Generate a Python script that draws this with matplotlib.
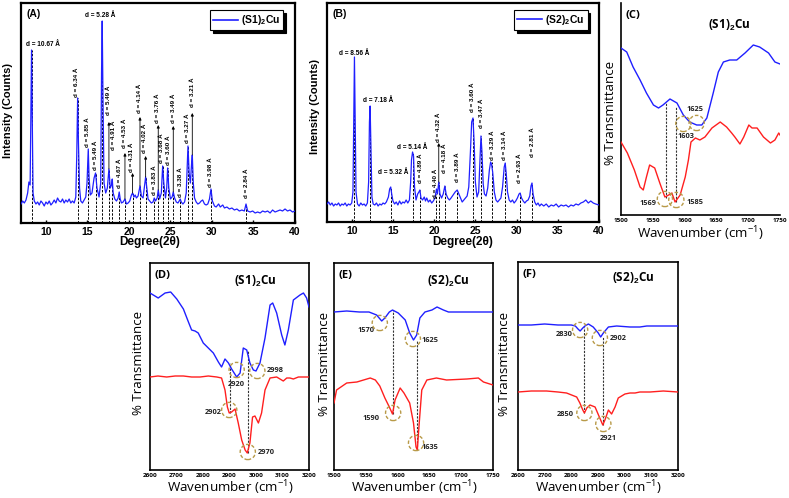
import matplotlib.pyplot as plt
from matplotlib.lines import Line2D

plt.rcParams['font.family'] = ['Liberation Sans', 'DejaVu Sans']
plt.rcParams['mathtext.fontset'] = 'custom'
plt.rcParams['mathtext.rm'] = 'Open Sans'
plt.rcParams['mathtext.bf'] = 'Liberation Sans:bold'

W, H = 789, 498
BLUE = '#1f1fff'
RED = '#ff1f1f'
GOLD = '#b89a48'
IRFONT = ['Open Sans', 'DejaVu Sans']

# ---------------- XRD (A) (S1)2Cu ----------------
a_2theta = [7.0, 7.2, 7.4, 7.6, 7.8, 7.95, 8.1, 8.2, 8.27, 8.35, 8.45, 8.6, 8.8, 9.0, 9.2, 9.4, 9.6, 9.8,
            10.0, 10.2, 10.4, 10.6, 10.8, 11.0, 11.2, 11.4, 11.6, 11.8, 12.0, 12.2, 12.4, 12.6, 12.8, 13.0,
            13.2, 13.4, 13.6, 13.72, 13.82, 13.92, 14.05, 14.2, 14.4, 14.6, 14.8, 14.95, 15.1, 15.2, 15.35,
            15.55, 15.8, 15.98, 16.15, 16.4, 16.6, 16.7, 16.78, 16.88, 17.0, 17.2, 17.4, 17.59, 17.75, 17.9,
            17.99, 18.1, 18.3, 18.5, 18.7, 18.83, 18.95, 19.1, 19.3, 19.52, 19.7, 19.9, 20.1, 20.3, 20.44,
            20.6, 20.75, 20.9, 21.1, 21.33, 21.5, 21.7, 21.85, 22.01, 22.15, 22.3, 22.5, 22.7, 22.9, 23.05,
            23.2, 23.4, 23.53, 23.7, 23.9, 24.06, 24.2, 24.4, 24.55, 24.66, 24.8, 25.0, 25.2, 25.34, 25.5,
            25.7, 25.9, 26.05, 26.18, 26.3, 26.5, 26.7, 26.9, 27.11, 27.25, 27.4, 27.55, 27.63, 27.75, 27.9,
            28.1, 28.3, 28.5, 28.7, 28.88, 29.1, 29.3, 29.5, 29.7, 29.88, 30.05, 30.3, 30.5, 30.8, 31.0,
            31.3, 31.5, 31.8, 32.1, 32.4, 32.7, 33.0, 33.3, 33.6, 33.9, 34.1, 34.3, 34.6, 34.9, 35.2, 35.5,
            35.8, 36.1, 36.4, 36.7, 37.0, 37.3, 37.6, 37.9, 38.2, 38.5, 38.8, 39.1, 39.4, 39.7, 40.0]
a_counts = [19, 22, 20, 23, 30, 41, 38, 120, 173, 110, 30, 22, 19, 21, 18, 22, 20, 17,
            21, 19, 22, 18, 20, 23, 20, 25, 22, 21, 24, 20, 23, 21, 24, 20,
            22, 20, 26, 70, 125, 80, 35, 22, 20, 23, 26, 40, 74, 45, 28,
            30, 45, 50, 35, 26, 40, 150, 202, 120, 40, 30, 35, 54, 35, 38,
            44, 30, 24, 22, 25, 31, 24, 20, 21, 24, 19, 20, 22, 28, 30,
            26, 28, 25, 27, 37, 27, 25, 35, 46, 35, 24, 22, 20, 21, 25,
            22, 25, 33, 24, 30, 57, 40, 25, 35, 55, 35, 24, 26, 31, 25,
            21, 20, 22, 24, 21, 19, 21, 30, 77, 50, 40, 60, 68, 40, 25,
            21, 19, 20, 22, 23, 19, 18, 19, 24, 34, 22, 17, 16, 19, 16,
            18, 15, 16, 14, 15, 13, 14, 12, 13, 12, 19, 12, 11, 12, 10, 11,
            10, 12, 11, 12, 10, 13, 11, 12, 13, 12, 14, 12, 13, 11, 12]
a_peaks = [8.27, 13.82, 15.1, 15.98, 16.78, 17.59, 17.99, 18.83, 19.52, 20.44, 21.33, 22.01,
           23.05, 23.53, 24.06, 24.66, 25.34, 26.18, 27.11, 27.63, 29.88, 34.1]
a_peak_h = [173, 125, 74, 50, 202, 54, 44, 31, 24, 30, 37, 46, 25, 33, 57, 55, 31, 24, 77, 68, 34, 19]

# text, 2theta, height, rotation
a_labels = [('d = 10.67 Å', 9.67, 179, 0), ('d = 5.28 Å', 16.5, 208, 0),
            ('d = 6.34 Å', 13.70, 126, 90), ('d = 5.85 Å', 15.02, 76, 90),
            ('d = 5.49 Å', 15.98, 53, 90), ('d = 5.49 Å', 17.59, 108, 90),
            ('d = 4.91 Å', 18.19, 73, 90), ('d = 4.67 Å', 18.83, 35, 90),
            ('d = 4.53 Å', 19.52, 75, 90), ('d = 4.31 Å', 20.32, 51, 90),
            ('d = 4.14 Å', 21.24, 110, 90), ('d = 4.02 Å', 21.93, 70, 90),
            ('d = 3.83 Å', 23.05, 28, 90), ('d = 3.76 Å', 23.46, 100, 90),
            ('d = 3.68 Å', 23.97, 60, 90), ('d = 3.60 Å', 24.72, 58, 90),
            ('d = 3.49 Å', 25.38, 100, 90), ('d = 3.38 Å', 26.18, 26, 90),
            ('d = 3.27 Å', 27.07, 80, 90), ('d = 3.21 Å', 27.67, 116, 90),
            ('d = 3.98 Å', 29.88, 36, 90), ('d = 2.84 Å', 34.1, 25, 90)]
a_arrows = [(17.59, 54, 101), (19.52, 24, 70), (20.44, 30, 50), (21.33, 37, 106),
            (22.01, 46, 67), (23.53, 33, 98), (25.34, 31, 97), (27.63, 68, 110)]

# ---------------- XRD (B) (S2)2Cu ----------------
b_2theta = [7.0, 7.2, 7.4, 7.6, 7.8, 8.0, 8.2, 8.4, 8.6, 8.8, 9.0, 9.2, 9.4, 9.6, 9.8, 10.0, 10.15,
            10.25, 10.33, 10.42, 10.52, 10.7, 10.9, 11.1, 11.3, 11.5, 11.7, 11.9, 12.05, 12.15, 12.23,
            12.32, 12.45, 12.6, 12.8, 13.0, 13.2, 13.4, 13.6, 13.8, 14.0, 14.2, 14.45, 14.6, 14.73, 14.85,
            15.0, 15.2, 15.4, 15.6, 15.8, 16.0, 16.2, 16.4, 16.6, 16.8, 17.0, 17.15, 17.25, 17.38, 17.5,
            17.62, 17.8, 18.0, 18.15, 18.27, 18.4, 18.6, 18.8, 18.95, 19.1, 19.3, 19.5, 19.7, 19.9, 20.1,
            20.28, 20.4, 20.56, 20.7, 20.9, 21.1, 21.3, 21.45, 21.65, 21.85, 22.05, 22.3, 22.55, 22.8,
            23.0, 23.2, 23.4, 23.6, 23.8, 24.0, 24.2, 24.4, 24.55, 24.71, 24.85, 25.0, 25.2, 25.4, 25.55,
            25.68, 25.8, 25.95, 26.1, 26.3, 26.5, 26.7, 26.85, 26.96, 27.1, 27.3, 27.5, 27.7, 27.9, 28.1,
            28.3, 28.5, 28.62, 28.75, 28.9, 29.1, 29.3, 29.5, 29.7, 29.9, 30.1, 30.3, 30.43, 30.6, 30.8,
            31.0, 31.2, 31.4, 31.6, 31.75, 31.87, 32.0, 32.2, 32.4, 32.6, 32.8, 33.0, 33.3, 33.6, 33.9,
            34.2, 34.5, 34.8, 35.1, 35.4, 35.7, 36.0, 36.3, 36.6, 36.9, 37.2, 37.5, 37.8, 38.1, 38.4,
            38.7, 39.0, 39.3, 39.6, 40.0]
b_counts = [18, 20, 17, 19, 16, 18, 17, 19, 16, 18, 17, 19, 16, 18, 17, 19, 30,
            110, 165, 100, 30, 18, 16, 19, 17, 18, 16, 19, 40, 100, 116,
            80, 25, 18, 17, 19, 16, 18, 17, 19, 18, 20, 25, 33, 35, 28,
            21, 18, 20, 17, 21, 18, 20, 19, 22, 19, 22, 40, 62, 70, 66,
            35, 22, 28, 30, 32, 24, 22, 25, 21, 24, 20, 22, 19, 21, 24,
            33, 28, 40, 28, 24, 28, 36, 28, 24, 22, 24, 27, 30, 32,
            28, 24, 20, 22, 24, 26, 35, 70, 100, 104, 80, 40, 25, 30, 60,
            86, 70, 38, 28, 26, 34, 52, 60, 58, 50, 30, 22, 20, 22, 24,
            35, 55, 59, 48, 30, 22, 20, 22, 19, 21, 24, 28, 29, 24, 21,
            19, 21, 22, 26, 36, 39, 28, 20, 17, 19, 16, 18, 16, 18, 15,
            17, 16, 18, 15, 17, 16, 17, 15, 17, 16, 18, 17, 19, 20, 22,
            19, 21, 19, 18, 17]
b_peaks = [10.33, 12.23, 14.73, 17.38, 18.27, 20.2, 20.56, 21.3, 22.82, 24.71, 25.7, 26.96,
           28.62, 30.43, 31.87]
b_peak_h = [165, 116, 35, 70, 32, 28, 40, 36, 32, 104, 86, 60, 59, 29, 39]
b_labels = [('d = 8.56 Å', 10.33, 169, 0), ('d = 7.18 Å', 13.23, 122, 0),
            ('d = 5.32 Å', 14.97, 50, 0), ('d = 5.14 Å', 17.33, 75, 0),
            ('d = 4.89 Å', 18.39, 39, 90), ('d = 4.40 Å', 20.2, 24, 90),
            ('d = 4.32 Å', 20.56, 80, 90), ('d = 4.18 Å', 21.28, 49, 90),
            ('d = 3.89 Å', 22.82, 40, 90), ('d = 3.60 Å', 24.7, 110, 90),
            ('d = 3.47 Å', 25.75, 94, 90), ('d = 3.29 Å', 27.05, 62, 90),
            ('d = 3.14 Å', 28.53, 62, 90), ('d = 2.93 Å', 30.34, 39, 90),
            ('d = 2.81 Å', 31.95, 65, 90)]
b_arrows = [(20.56, 40, 79)]

# ---------------- FTIR (C) (S1)2Cu 1500-1750 ----------------
c_wn_blue = [1500, 1509, 1519, 1530, 1540, 1551, 1559, 1566, 1577, 1588, 1598, 1608, 1619, 1627,
             1635, 1645, 1653, 1661, 1671, 1682, 1695, 1708, 1718, 1732, 1742, 1750]
c_blue = [167, 163, 148, 135, 122, 110, 107, 110, 116, 112, 100, 93, 90, 90,
          97, 122, 143, 153, 155, 155, 162, 170, 168, 162, 153, 151]
c_wn_red = [1500, 1510, 1521, 1530, 1535, 1540, 1545, 1553, 1561, 1569, 1575, 1580, 1585, 1593,
            1601, 1606, 1610, 1617, 1624, 1632, 1643, 1656, 1666, 1674, 1679, 1687, 1693, 1701,
            1706, 1714, 1724, 1735, 1742, 1748, 1750]
c_red = [73, 62, 45, 28, 25, 38, 50, 47, 32, 18, 20, 22, 13, 20,
         38, 55, 73, 77, 75, 78, 87, 93, 88, 82, 78, 71, 78, 90,
         87, 87, 78, 72, 75, 82, 80]
c_marks = [(1569, 16, '1569', 1542, 12), (1587, 15, '1585', 1616, 13),
           (1598, 91, '1603', 1602, 79), (1619, 92, '1625', 1616, 106)]
c_links = [(1570, 17, 112), (1586, 13, 108)]

# ---------------- FTIR (D) (S1)2Cu 2600-3200 ----------------
d_wn_blue = [2600, 2631, 2657, 2678, 2701, 2726, 2745, 2757, 2770, 2782, 2801, 2820, 2839, 2858,
             2870, 2883, 2896, 2908, 2927, 2940, 2952, 2965, 2977, 2990, 3000, 3015, 3034, 3053,
             3063, 3078, 3097, 3109, 3122, 3141, 3166, 3179, 3191, 3200]
d_blue = [177, 172, 177, 178, 171, 161, 148, 140, 139, 137, 127, 122, 117, 108,
          103, 111, 107, 101, 93, 97, 122, 120, 107, 100, 99, 107, 132, 165,
          167, 157, 135, 125, 140, 170, 175, 177, 172, 163]
d_wn_red = [2600, 2630, 2663, 2695, 2726, 2757, 2789, 2820, 2852, 2870, 2883, 2892, 2899, 2908,
            2921, 2933, 2946, 2959, 2967, 2977, 2987, 2996, 3009, 3021, 3034, 3053, 3078, 3103,
            3116, 3128, 3141, 3160, 3200]
d_red = [93, 94, 93, 94, 94, 93, 93, 94, 93, 92, 80, 63, 57, 58,
         61, 47, 30, 20, 17, 27, 53, 54, 47, 57, 80, 92, 93, 89,
         92, 92, 91, 93, 93]
d_marks = [(2927, 100, '2920', 2925, 85), (3005, 99, '2998', 3072, 100),
           (2899, 60, '2902', 2839, 57), (2969, 18, '2970', 3040, 18)]
d_links = [(2902, 57, 107), (2969, 17, 120)]

# ---------------- FTIR (E) (S2)2Cu 1500-1750 ----------------
e_wn_blue = [1500, 1520, 1540, 1555, 1567, 1575, 1580, 1587, 1592, 1601, 1612, 1619, 1625, 1630,
             1635, 1643, 1654, 1662, 1672, 1680, 1700, 1720, 1750]
e_blue = [158, 159, 158, 158, 155, 149, 152, 158, 160, 157, 150, 137, 130, 135,
          152, 158, 160, 163, 160, 158, 158, 158, 158]
e_wn_red = [1500, 1504, 1520, 1536, 1557, 1565, 1572, 1580, 1587, 1592, 1596, 1604, 1610, 1619,
            1625, 1629, 1631, 1634, 1638, 1646, 1661, 1677, 1709, 1727, 1735, 1750]
e_red = [67, 80, 87, 88, 92, 90, 84, 72, 63, 56, 70, 82, 77, 67,
         47, 23, 20, 47, 80, 90, 92, 90, 91, 92, 88, 85]
e_marks = [(1572, 147, '1570', 1551, 140), (1624, 131, '1625', 1651, 130),
           (1593, 57, '1590', 1558, 52), (1629, 27, '1635', 1651, 23)]
e_links = [(1592, 56, 160), (1630, 20, 130)]

# ---------------- FTIR (F) (S2)2Cu 2600-3200 ----------------
f_wn_blue = [2600, 2650, 2700, 2750, 2800, 2815, 2825, 2833, 2843, 2851, 2864, 2882, 2901, 2910,
             2920, 2939, 2970, 3020, 3057, 3083, 3145, 3200]
f_blue = [145, 145, 146, 145, 145, 144, 141, 139, 142, 144, 146, 143, 137, 133,
          137, 143, 144, 143, 143, 144, 144, 144]
f_wn_red = [2600, 2650, 2707, 2750, 2782, 2820, 2832, 2843, 2849, 2858, 2870, 2889, 2905, 2918,
            2926, 2939, 2951, 2964, 2976, 3001, 3020, 3039, 3057, 3095, 3145, 3200]
f_red = [78, 79, 79, 78, 77, 73, 67, 60, 57, 62, 65, 63, 53, 45,
         50, 60, 56, 63, 72, 76, 77, 77, 78, 78, 79, 78]
f_marks = [(2833, 140, '2830', 2772, 136), (2907, 132, '2902', 2975, 132),
           (2849, 57, '2850', 2776, 55), (2920, 46, '2921', 2937, 32)]
f_links = [(2849, 57, 143), (2918, 45, 133)]


def box(x0, y0, x1, y1):
    return [x0 / W, 1 - y1 / H, (x1 - x0) / W, (y1 - y0) / H]


def ftext(x, y, s, **kw):
    fig.text(x / W, 1 - y / H, s, ha='center', va='center', **kw)


fig = plt.figure(figsize=(W / 100, H / 100), dpi=100)


def xrd_panel(rect, tt, counts, peaks, peak_h, labels, arrows, letter, legend, ylim):
    ax = fig.add_axes(rect)
    ax.plot(tt, counts, color=BLUE, lw=0.9, zorder=3)
    ax.vlines(peaks, 0, peak_h, colors='black', linestyles=(0, (2.5, 1.5)), lw=0.7, zorder=2)
    for s, x, y, rot in labels:
        if rot == 0:
            ax.text(x, y, s, fontsize=4.7, fontweight='bold', ha='center', va='center')
        else:
            ax.text(x, y, s, fontsize=4.5, fontweight='bold', rotation=90,
                    ha='center', va='bottom')
    for x, y0, y1 in arrows:
        ax.annotate('', xy=(x, y1), xytext=(x, y0),
                    arrowprops=dict(arrowstyle='-|>', color='black', lw=0.6,
                                    mutation_scale=4, shrinkA=0, shrinkB=0))
    ax.set_xlim(7, 40)
    ax.set_ylim(0, ylim)
    ax.set_yticks([])
    ax.set_xticks([10, 15, 20, 25, 30, 35, 40])
    ax.tick_params(axis='x', direction='in', length=2, width=1, pad=3, labelsize=7.5)
    for t in ax.get_xticklabels():
        t.set_fontweight('bold')
    for sp in ax.spines.values():
        sp.set_linewidth(1.6)
    ax.text(0.02, 0.95, letter, transform=ax.transAxes, fontsize=7.5,
            fontweight='bold', ha='left', va='center')
    leg = ax.legend(handles=[Line2D([], [], color=BLUE, lw=1.2)], labels=[legend],
                    loc='upper right', bbox_to_anchor=(0.958, 0.968), borderaxespad=0,
                    fancybox=False, shadow={'color': 'black', 'alpha': 1},
                    edgecolor='black', prop=dict(weight='bold', size=7.5),
                    handlelength=2.4, handletextpad=0.3, borderpad=0.3)
    leg.get_frame().set_linewidth(0.8)
    return ax


def ir_panel(rect, xlim, ticks, wb, yb, wr, yr, marks, links, letter, title, title_xy,
             ylim, box_on=True):
    ax = fig.add_axes(rect)
    ax.plot(wb, yb, color=BLUE, lw=1.0, zorder=3)
    ax.plot(wr, yr, color=RED, lw=1.0, zorder=3)
    for x, y0, y1 in links:
        ax.plot([x, x], [y0, y1], color='#333333', lw=0.8, ls=(0, (2, 1.2)), zorder=2)
    for cx, cy, s, tx, ty in marks:
        ax.scatter([cx], [cy], s=120, facecolors='none', edgecolors=GOLD,
                   linewidths=1.0, linestyles=(0, (2.5, 1.5)), zorder=4)
        ax.text(tx, ty, s, fontsize=5.3, fontweight='bold', family=IRFONT,
                ha='center', va='center', color='#222222')
    ax.set_xlim(*xlim)
    ax.set_ylim(0, ylim)
    ax.set_yticks([])
    ax.set_xticks(ticks)
    ax.tick_params(axis='x', length=0, pad=2, labelsize=4.6)
    for t in ax.get_xticklabels():
        t.set_fontweight('bold')
        t.set_family(IRFONT)
    for sp in ax.spines.values():
        sp.set_linewidth(1.2)
    if not box_on:
        ax.spines['top'].set_visible(False)
        ax.spines['right'].set_visible(False)
    ax.text(0.03, 0.94, letter, transform=ax.transAxes, fontsize=8, fontweight='bold',
            family=IRFONT, ha='left', va='center')
    ax.text(title_xy[0], title_xy[1], title, transform=ax.transAxes, fontsize=8.5,
            fontweight='bold', family=IRFONT, ha='center', va='center')
    return ax


xrd_panel(box(21, 3, 295, 223), a_2theta, a_counts, a_peaks, a_peak_h, a_labels, a_arrows,
          '(A)', r'(S1)$_\mathbf{2}$Cu', 220)
xrd_panel(box(327, 3, 599, 222), b_2theta, b_counts, b_peaks, b_peak_h, b_labels, b_arrows,
          '(B)', r'(S2)$_\mathbf{2}$Cu', 219)

ir_panel(box(621, 3, 780, 215), (1500, 1750), [1500, 1550, 1600, 1650, 1700, 1750],
         c_wn_blue, c_blue, c_wn_red, c_red, c_marks, c_links, '(C)',
         r'(S1)$_\mathbf{2}$Cu', (0.68, 0.895), 212, box_on=False)
ir_panel(box(150, 263, 309, 470), (2600, 3200), [2600, 2700, 2800, 2900, 3000, 3100, 3200],
         d_wn_blue, d_blue, d_wn_red, d_red, d_marks, d_links, '(D)',
         r'(S1)$_\mathbf{2}$Cu', (0.66, 0.91), 207)
ir_panel(box(334, 263, 493, 470), (1500, 1750), [1500, 1550, 1600, 1650, 1700, 1750],
         e_wn_blue, e_blue, e_wn_red, e_red, e_marks, e_links, '(E)',
         r'(S2)$_\mathbf{2}$Cu', (0.72, 0.91), 207)
ir_panel(box(518, 262, 678, 470), (2600, 3200), [2600, 2700, 2800, 2900, 3000, 3100, 3200],
         f_wn_blue, f_blue, f_wn_red, f_red, f_marks, f_links, '(F)',
         r'(S2)$_\mathbf{2}$Cu', (0.72, 0.92), 208)

# axis titles
ftext(8, 110, 'Intensity (Counts)', rotation=90, fontsize=8, fontweight='bold')
ftext(315, 107, 'Intensity (Counts)', rotation=90, fontsize=8, fontweight='bold')
ftext(150, 242, 'Degree(2θ)', fontsize=8.5, fontweight='bold')
ftext(463, 242, 'Degree(2θ)', fontsize=8.5, fontweight='bold')

for x, y in [(611, 113), (139, 363), (324, 364), (504, 364)]:
    ftext(x, y, '% Transmittance', rotation=90, fontsize=9.5, family=IRFONT)
for x, y in [(700, 234), (230, 488), (414, 488), (598, 488)]:
    ftext(x, y, r'Wavenumber (cm$^{-1}$)', fontsize=9.6, family=IRFONT)

fig.savefig('out.png', dpi=100, facecolor='white')
